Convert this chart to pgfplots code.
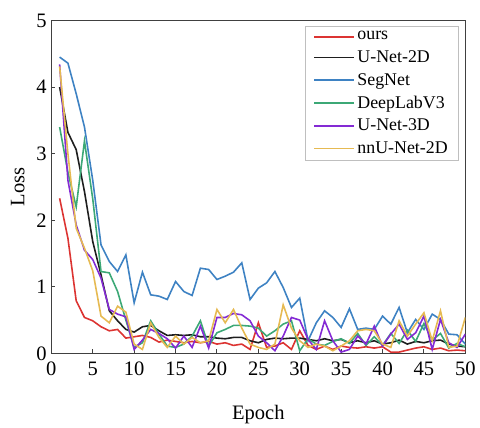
\documentclass[border=0pt]{standalone}
\usepackage{pgfplots}
\pgfplotsset{compat=1.18}
\usepackage{pgfplotstable}
\usepackage{fontspec}
\setmainfont{Liberation Serif}

\definecolor{cours}{RGB}{220,52,50}
\definecolor{cunet}{RGB}{30,30,30}
\definecolor{cseg}{RGB}{62,130,195}
\definecolor{cdeep}{RGB}{60,168,118}
\definecolor{cthree}{RGB}{132,42,212}
\definecolor{cnnu}{RGB}{230,186,82}

% epoch, ours, U-Net-2D, SegNet, DeepLabV3, U-Net-3D, nnU-Net-2D
\pgfplotstableread{
ep ours unet2d segnet deeplab unet3d nnunet
1  2.33 4.00 4.45 3.40 4.34 4.31
2  1.73 3.32 4.36 2.72 2.60 3.00
3  0.79 3.06 3.90 2.20 1.93 1.88
4  0.54 2.43 3.40 3.19 1.55 1.58
5  0.49 1.68 2.60 2.32 1.41 1.24
6  0.40 1.18 1.63 1.23 1.13 0.56
7  0.34 0.64 1.38 1.21 0.66 0.46
8  0.36 0.49 1.23 0.93 0.59 0.71
9  0.23 0.36 1.48 0.50 0.55 0.62
10 0.25 0.32 0.76 0.09 0.06 0.14
11 0.27 0.40 1.22 0.16 0.20 0.06
12 0.24 0.42 0.88 0.49 0.36 0.46
13 0.17 0.34 0.86 0.29 0.30 0.24
14 0.20 0.27 0.81 0.11 0.22 0.09
15 0.18 0.28 1.08 0.09 0.08 0.26
16 0.16 0.27 0.93 0.14 0.26 0.14
17 0.18 0.28 0.87 0.26 0.09 0.24
18 0.16 0.25 1.28 0.49 0.41 0.16
19 0.18 0.25 1.26 0.11 0.08 0.19
20 0.14 0.23 1.11 0.31 0.54 0.66
21 0.16 0.22 1.16 0.36 0.54 0.46
22 0.12 0.24 1.22 0.42 0.60 0.66
23 0.14 0.24 1.36 0.42 0.58 0.38
24 0.06 0.19 0.81 0.41 0.49 0.14
25 0.46 0.16 0.98 0.38 0.26 0.09
26 0.09 0.21 1.06 0.26 0.16 0.06
27 0.11 0.23 1.23 0.34 0.04 0.14
28 0.16 0.22 0.99 0.44 0.26 0.73
29 0.06 0.23 0.69 0.49 0.54 0.38
30 0.34 0.23 0.83 0.04 0.50 0.19
31 0.12 0.21 0.19 0.22 0.21 0.09
32 0.06 0.19 0.46 0.14 0.06 0.14
33 0.11 0.22 0.64 0.12 0.49 0.11
34 0.06 0.19 0.54 0.18 0.19 0.04
35 0.11 0.21 0.39 0.22 0.02 0.11
36 0.09 0.16 0.67 0.15 0.06 0.19
37 0.08 0.19 0.36 0.30 0.26 0.34
38 0.10 0.16 0.38 0.12 0.14 0.36
39 0.08 0.19 0.36 0.25 0.41 0.34
40 0.10 0.14 0.56 0.12 0.11 0.14
41 0.02 0.16 0.44 0.30 0.29 0.09
42 0.02 0.20 0.69 0.15 0.44 0.49
43 0.05 0.14 0.31 0.35 0.21 0.26
44 0.08 0.18 0.51 0.18 0.31 0.44
45 0.10 0.16 0.36 0.45 0.56 0.61
46 0.06 0.19 0.59 0.20 0.06 0.19
47 0.08 0.20 0.51 0.30 0.51 0.64
48 0.04 0.14 0.29 0.08 0.16 0.09
49 0.05 0.11 0.28 0.15 0.09 0.11
50 0.04 0.10 0.14 0.10 0.29 0.54
}\losstable

\begin{document}
\begin{tikzpicture}[font=\fontsize{15.5pt}{18pt}\selectfont]
\begin{axis}[
    name=ax,
    scale only axis,
    width=312.75pt, height=251.5pt,
    xmin=0, xmax=50, ymin=0, ymax=5,
    xtick={0,5,...,50}, ytick={0,1,...,5},
    tick pos=left, tick align=inside,
    major tick length=3pt,
    axis line style={draw=black!75, line width=0.8pt},
    tick style={draw=black!75, line width=0.8pt},
    /pgf/number format/assume math mode=true,
    xticklabel style={yshift=-3pt},
    xlabel={Epoch}, ylabel={Loss},
    xlabel style={yshift=-15pt},
    ylabel style={yshift=2pt},
    every axis plot/.append style={line width=1.2pt, no marks},
    legend cell align=left,
    legend style={at={(0.984,0.984)}, anchor=north east,
        draw=black!25, line width=0.6pt, row sep=2.6pt,
        inner xsep=6pt, inner ysep=2pt,
        font=\fontsize{13.5pt}{16pt}\selectfont},
    legend image code/.code={\draw[#1, line width=1.3pt] (0cm,0cm) -- (1.05cm,0cm);},
]
\addplot[cours]  table[x=ep, y=ours]    {\losstable};
\addplot[cunet]  table[x=ep, y=unet2d]  {\losstable};
\addplot[cseg]   table[x=ep, y=segnet]  {\losstable};
\addplot[cdeep]  table[x=ep, y=deeplab] {\losstable};
\addplot[cthree] table[x=ep, y=unet3d]  {\losstable};
\addplot[cnnu]   table[x=ep, y=nnunet]  {\losstable};
\legend{ours, U-Net-2D, SegNet, DeepLabV3, U-Net-3D, nnU-Net-2D}
\end{axis}
\path[use as bounding box] ([shift={(-38.8pt,-47.25pt)}]ax.south west)
    rectangle ([shift={(8.5pt,15.5pt)}]ax.north east);
\end{tikzpicture}
\end{document}
